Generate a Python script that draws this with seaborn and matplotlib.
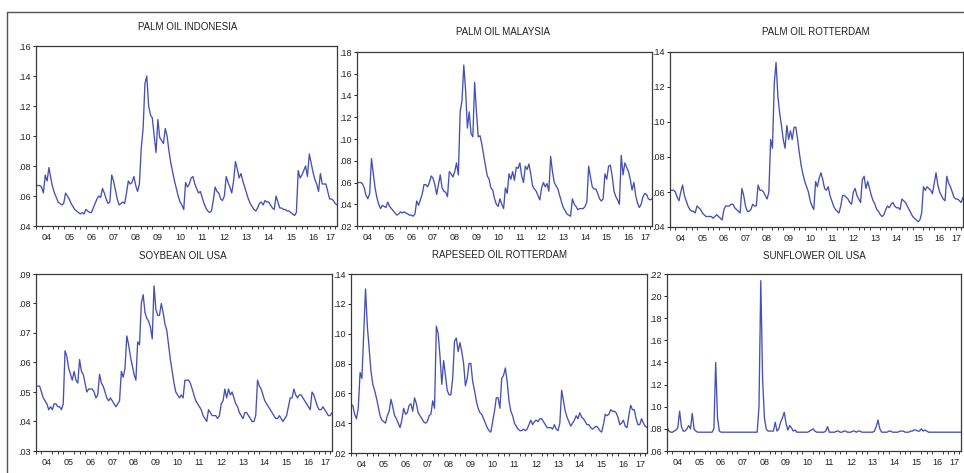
import numpy as np
import pandas as pd
import matplotlib
matplotlib.use("Agg")
import matplotlib.pyplot as plt
from matplotlib.ticker import FuncFormatter, FixedLocator
from matplotlib.lines import Line2D
import seaborn as sns

sns.set_style("white")
plt.rcParams['font.family'] = ['Liberation Sans', 'DejaVu Sans']

# Monthly observations, 2004M01 .. 2017M08
start_year = 2004
years = list(range(2004, 2018))
year_labels = ["04", "05", "06", "07", "08", "09", "10", "11", "12", "13", "14", "15", "16", "17"]

palm_oil_indonesia = [
    .067, .067, .067, .066, .062, .074, .070, .079, .072, .066, .062, .059,
    .056, .055, .054, .055, .062, .060, .058, .055, .053, .051, .050, .049,
    .048, .049, .048, .051, .050, .049, .049, .052, .055, .058, .060, .059,
    .065, .062, .058, .055, .056, .074, .070, .064, .058, .054, .055, .056,
    .055, .062, .070, .068, .069, .073, .067, .063, .068, .092, .105, .135,
    .140, .120, .114, .112, .100, .089, .111, .099, .097, .095, .105, .100,
    .090, .082, .076, .070, .065, .060, .056, .054, .051, .069, .066, .068,
    .072, .073, .068, .065, .062, .063, .059, .055, .052, .050, .049, .050,
    .057, .066, .063, .062, .058, .057, .060, .073, .069, .066, .062, .070,
    .083, .078, .072, .075, .070, .066, .062, .058, .055, .053, .051, .050,
    .052, .055, .056, .054, .057, .056, .056, .054, .052, .051, .060, .056,
    .052, .052, .051, .051, .050, .050, .049, .048, .047, .049, .077, .072,
    .074, .077, .080, .073, .088, .082, .076, .071, .068, .063, .075, .068,
    .068, .068, .063, .058, .058, .057, .055, .054,
]

palm_oil_malaysia = [
    .060, .060, .060, .059, .055, .048, .045, .050, .082, .068, .055, .046,
    .040, .036, .039, .038, .037, .042, .038, .036, .034, .032, .030, .031,
    .033, .032, .033, .032, .031, .030, .030, .029, .031, .043, .039, .044,
    .049, .058, .058, .056, .060, .066, .064, .058, .049, .058, .067, .055,
    .052, .051, .047, .070, .068, .065, .070, .078, .067, .125, .135, .168,
    .145, .110, .125, .105, .102, .152, .125, .102, .103, .095, .085, .075,
    .066, .063, .055, .053, .045, .040, .038, .045, .040, .036, .055, .050,
    .068, .063, .070, .062, .074, .073, .078, .066, .060, .075, .072, .077,
    .068, .057, .054, .052, .048, .044, .055, .060, .056, .059, .052, .084,
    .070, .060, .057, .054, .048, .042, .037, .034, .031, .030, .029, .045,
    .040, .038, .035, .036, .036, .036, .038, .042, .075, .065, .056, .054,
    .054, .050, .045, .043, .045, .068, .063, .075, .076, .066, .052, .047,
    .044, .040, .085, .067, .078, .074, .070, .063, .053, .060, .048, .041,
    .037, .040, .047, .050, .049, .045, .044, .045,
]

palm_oil_rotterdam = [
    .061, .061, .061, .060, .057, .055, .060, .064, .058, .055, .052, .050,
    .049, .049, .048, .052, .051, .050, .048, .047, .046, .046, .046, .046,
    .045, .046, .047, .046, .045, .044, .050, .052, .052, .052, .053, .053,
    .051, .050, .049, .048, .062, .058, .052, .049, .049, .050, .053, .052,
    .052, .064, .061, .061, .060, .058, .056, .060, .090, .085, .122, .134,
    .115, .105, .098, .090, .085, .098, .090, .095, .090, .097, .097, .090,
    .082, .075, .070, .066, .063, .060, .055, .052, .050, .066, .063, .068,
    .071, .067, .062, .061, .063, .058, .055, .052, .050, .049, .048, .052,
    .058, .058, .057, .056, .054, .053, .060, .062, .058, .056, .054, .067,
    .069, .062, .066, .062, .058, .055, .053, .050, .049, .047, .046, .047,
    .050, .052, .051, .053, .054, .052, .051, .051, .050, .056, .055, .054,
    .052, .050, .048, .046, .045, .044, .043, .044, .048, .063, .061, .063,
    .062, .061, .059, .065, .071, .064, .060, .058, .056, .055, .069, .065,
    .063, .060, .057, .056, .056, .055, .054, .057,
]

soybean_oil_usa = [
    .052, .052, .052, .050, .048, .047, .046, .044, .045, .044, .046, .046,
    .045, .045, .044, .046, .064, .062, .058, .056, .054, .057, .054, .053,
    .061, .057, .056, .053, .050, .051, .051, .051, .050, .048, .049, .056,
    .053, .052, .050, .048, .047, .048, .047, .046, .045, .046, .047, .057,
    .055, .058, .069, .066, .062, .059, .056, .054, .067, .066, .080, .083,
    .077, .075, .074, .072, .068, .086, .078, .076, .076, .080, .077, .073,
    .071, .066, .061, .057, .053, .050, .049, .048, .049, .048, .054, .054,
    .054, .053, .051, .049, .047, .046, .045, .044, .042, .041, .040, .044,
    .043, .042, .042, .042, .041, .042, .046, .047, .051, .048, .051, .049,
    .050, .048, .046, .045, .043, .042, .041, .043, .043, .042, .041, .040,
    .040, .042, .054, .052, .051, .049, .047, .046, .045, .044, .043, .042,
    .041, .041, .042, .041, .040, .041, .042, .045, .048, .048, .051, .049,
    .048, .049, .049, .048, .047, .046, .045, .044, .050, .049, .047, .045,
    .044, .044, .045, .044, .043, .042, .042, .043,
]

rapeseed_oil_rotterdam = [
    .052, .052, .046, .043, .050, .074, .070, .100, .130, .105, .090, .075,
    .066, .062, .057, .051, .045, .042, .041, .040, .045, .048, .056, .051,
    .045, .043, .040, .037, .042, .050, .046, .047, .052, .053, .048, .057,
    .053, .047, .045, .043, .041, .040, .041, .045, .046, .055, .050, .105,
    .100, .085, .066, .082, .072, .062, .059, .059, .070, .095, .097, .088,
    .094, .088, .080, .065, .070, .080, .080, .068, .062, .055, .050, .047,
    .046, .043, .040, .037, .035, .034, .041, .048, .057, .057, .050, .070,
    .072, .077, .068, .055, .048, .045, .040, .038, .036, .035, .035, .036,
    .035, .036, .039, .042, .039, .041, .042, .041, .043, .043, .041, .039,
    .037, .037, .037, .036, .039, .036, .035, .040, .062, .055, .048, .044,
    .041, .038, .040, .042, .045, .043, .047, .044, .043, .041, .039, .039,
    .037, .036, .037, .038, .037, .035, .034, .039, .046, .045, .046, .049,
    .048, .048, .047, .044, .039, .040, .042, .038, .037, .045, .052, .049,
    .049, .043, .039, .039, .043, .040, .038, .037,
]

sunflower_oil_usa = [
    .082, .078, .077, .077, .078, .079, .081, .096, .082, .078, .078, .080,
    .083, .080, .094, .080, .078, .077, .077, .077, .077, .077, .077, .077,
    .077, .077, .080, .140, .090, .078, .077, .077, .077, .077, .077, .077,
    .077, .077, .077, .077, .077, .077, .077, .077, .077, .077, .077, .077,
    .077, .077, .077, .100, .214, .125, .090, .080, .078, .078, .078, .078,
    .086, .078, .080, .086, .090, .095, .085, .079, .083, .081, .078, .079,
    .077, .077, .077, .077, .077, .077, .077, .078, .079, .080, .078, .077,
    .077, .077, .077, .077, .078, .082, .077, .077, .077, .077, .078, .078,
    .077, .077, .078, .078, .077, .077, .077, .078, .078, .077, .078, .078,
    .077, .077, .077, .077, .077, .077, .077, .078, .082, .088, .080, .077,
    .077, .077, .077, .078, .078, .077, .077, .077, .077, .078, .078, .078,
    .077, .077, .077, .078, .078, .079, .079, .078, .078, .080, .078, .079,
    .078, .077, .077, .077, .077, .077, .077, .077, .077, .077, .077, .077,
    .077, .077, .077, .077, .077, .077, .077, .077,
]

titles = ["PALM OIL INDONESIA", "PALM OIL MALAYSIA", "PALM OIL ROTTERDAM",
          "SOYBEAN OIL USA", "RAPESEED OIL ROTTERDAM", "SUNFLOWER OIL USA"]
series = [palm_oil_indonesia, palm_oil_malaysia, palm_oil_rotterdam,
          soybean_oil_usa, rapeseed_oil_rotterdam, sunflower_oil_usa]
y_ranges = [(0.04, 0.16, 0.02), (0.02, 0.18, 0.02), (0.04, 0.14, 0.02),
            (0.03, 0.09, 0.01), (0.02, 0.14, 0.02), (0.06, 0.22, 0.02)]

W, H = 964, 473
# axes boxes in pixels: left, right, top, bottom
boxes = [(36, 337, 46, 226), (357, 652, 52, 226), (670, 963, 52, 227),
         (36, 332, 274, 451), (351, 647, 274, 453), (667, 961, 274, 451)]
title_pos = [(188, 27), (503, 32), (816, 32), (183, 256), (499, 255), (814, 256)]

line_color = "#4450b6"
spine_color = "#3a3a3a"

fig = plt.figure(figsize=(W / 100, H / 100), dpi=100)

for i in range(6):
    vals = series[i]
    n = len(vals)
    x = start_year + np.arange(n) / 12.0
    df = pd.DataFrame({"t": x, "v": vals})
    l, r, t, b = boxes[i]
    ax = fig.add_axes([l / W, 1 - b / H, (r - l) / W, (b - t) / H])
    sns.lineplot(data=df, x="t", y="v", ax=ax, color=line_color, linewidth=0.95)
    xmax = x[-1]
    ax.set_xlim(start_year, xmax)
    lo, hi, step = y_ranges[i]
    ax.set_ylim(lo, hi)
    yt = np.round(np.arange(lo, hi + step / 2, step), 3)
    ax.set_yticks(yt)
    ax.yaxis.set_major_formatter(FuncFormatter(lambda v, p: f"{v:.2f}"[1:] if v < 1 else f"{v:.2f}"))
    # year labels at the middle of the visible part of each year
    mids = [min(yy + 1, xmax) / 2 + yy / 2 for yy in years]
    ax.set_xticks(mids)
    ax.set_xticklabels(year_labels)
    quarters = [q for q in np.arange(start_year, xmax + 1e-6, 0.25)]
    ax.xaxis.set_minor_locator(FixedLocator(quarters))
    ax.tick_params(axis="x", which="major", length=0, pad=5, labelsize=6.5, colors="#222222")
    ax.tick_params(axis="x", which="minor", length=2.5, width=0.7, direction="out",
                   color=spine_color, bottom=True)
    ax.tick_params(axis="y", which="major", length=2.5, width=0.7, pad=1, labelsize=6.5,
                   colors="#222222", direction="out", left=True)
    ax.set_xlabel("")
    ax.set_ylabel("")
    for s in ax.spines.values():
        s.set_color(spine_color)
        s.set_linewidth(0.9)
    tx, ty = title_pos[i]
    fig.text(tx / W, 1 - ty / H, titles[i], ha="center", va="center",
             fontsize=7, color="#222222")

# outer frame lines (top and left)
fig.add_artist(Line2D([7 / W, 1.0], [1 - 12 / H, 1 - 12 / H], transform=fig.transFigure,
                      color="#555555", linewidth=1.0))
fig.add_artist(Line2D([7 / W, 7 / W], [0.0, 1 - 12 / H], transform=fig.transFigure,
                      color="#555555", linewidth=1.0))

fig.savefig("out.png", dpi=100, facecolor="white")
